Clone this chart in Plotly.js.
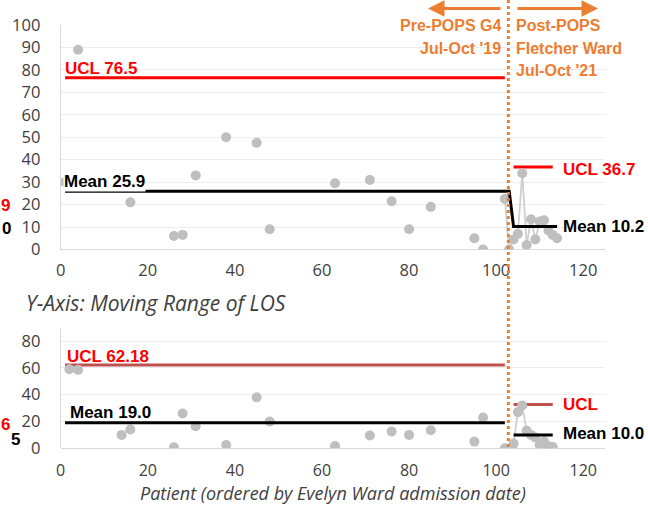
<!DOCTYPE html>
<html>
<head>
<meta charset="utf-8">
<script src="https://cdn.plot.ly/plotly-3.0.1.min.js"></script>
<style>html,body{margin:0;padding:0;background:#fff;}#chart{width:648px;height:506px;}</style>
</head>
<body>
<div id="chart"></div>
<script>
// ---- Data ----
// Top panel: LOS per patient
const preX  = [1, 4, 16, 26, 28, 31, 38, 45, 48, 63, 71, 76, 80, 85, 95, 97];
const preY  = [30, 89, 21, 6, 6.5, 33, 50, 47.5, 9, 29.5, 31, 21.5, 9, 19, 5, 0];
const postX = [102, 103, 104, 105, 106, 107, 108, 109, 110, 111, 112, 113, 114];
const postY = [22.5, 0, 4.5, 7, 34, 2, 13.5, 4.5, 12.5, 13, 8.5, 6.5, 5];
const meanTopX = [1, 103, 104, 114];
const meanTopY = [25.9, 25.9, 10.2, 10.2];
const uclPreX = [1, 102];  const uclPreY = [76.5, 76.5];
const uclPostX = [104, 113]; const uclPostY = [36.7, 36.7];

// Bottom panel: moving range
const mrPreX  = [2, 4, 14, 16, 26, 28, 31, 38, 45, 48, 63, 71, 76, 80, 85, 95, 97];
const mrPreY  = [59, 58.5, 10, 14, 0.7, 26, 16.5, 2.5, 38, 20, 1.7, 9.5, 12.5, 10, 13.5, 5, 23];
const mrPostX = [102, 104, 105, 106, 107, 108, 109, 110, 111, 112, 113];
const mrPostY = [0, 3.5, 27, 32, 13, 10, 8, 2.5, 5, 1.5, 1];
const mrMeanPreX = [1, 102];  const mrMeanPreY = [19.0, 19.0];
const mrMeanPostX = [104, 113]; const mrMeanPostY = [10.0, 10.0];
const mrUclPreX = [1, 102];  const mrUclPreY = [62.18, 62.18];
const mrUclPostX = [104, 113]; const mrUclPostY = [32.7, 32.7];

const xTicks = [0, 20, 40, 60, 80, 100, 120];
const yTopTicks = [0, 10, 20, 30, 40, 50, 60, 70, 80, 90, 100];
const yBotTicks = [0, 20, 40, 60, 80];
const phaseX = 102.8;

// ---- Styling ----
const W = 648, H = 506;
const px = v => v / W;
const py = v => 1 - v / H;
const GRAY = '#BFBFBF', LINEGRAY = '#CFCFCF', ORANGE = '#ED7D31';
const RED = '#FF0000', DULLRED = '#C0504D';
const tickFont = {family: 'Open Sans, sans-serif', size: 16.5, color: '#404040'};
const boldFont = (c, s) => ({family: 'Liberation Sans, Arial, sans-serif', size: s || 17, color: c, weight: 700});

const traces = [
  {x: uclPreX, y: uclPreY, mode: 'lines', line: {color: RED, width: 3}, xaxis: 'x', yaxis: 'y'},
  {x: uclPostX, y: uclPostY, mode: 'lines', line: {color: RED, width: 3}, xaxis: 'x', yaxis: 'y'},
  {x: preX, y: preY, mode: 'markers', marker: {color: GRAY, size: 10}, xaxis: 'x', yaxis: 'y'},
  {x: postX, y: postY, mode: 'lines+markers', marker: {color: GRAY, size: 10}, line: {color: LINEGRAY, width: 1.8}, xaxis: 'x', yaxis: 'y'},
  {x: meanTopX, y: meanTopY, mode: 'lines', line: {color: '#000', width: 3}, xaxis: 'x', yaxis: 'y'},

  {x: mrUclPreX, y: mrUclPreY, mode: 'lines', line: {color: DULLRED, width: 3}, xaxis: 'x2', yaxis: 'y2'},
  {x: mrUclPostX, y: mrUclPostY, mode: 'lines', line: {color: DULLRED, width: 3}, xaxis: 'x2', yaxis: 'y2'},
  {x: mrPreX, y: mrPreY, mode: 'markers', marker: {color: GRAY, size: 10}, xaxis: 'x2', yaxis: 'y2'},
  {x: mrPostX, y: mrPostY, mode: 'lines+markers', marker: {color: GRAY, size: 10}, line: {color: LINEGRAY, width: 1.8}, xaxis: 'x2', yaxis: 'y2'},
  {x: mrMeanPreX, y: mrMeanPreY, mode: 'lines', line: {color: '#000', width: 3}, xaxis: 'x2', yaxis: 'y2'},
  {x: mrMeanPostX, y: mrMeanPostY, mode: 'lines', line: {color: '#000', width: 3}, xaxis: 'x2', yaxis: 'y2'}
];

const xDomain = [px(60.7), px(605)];
const axisX = (anchor, standoff, font) => ({
  domain: xDomain, anchor: anchor, range: [0, 125], tickvals: xTicks, ticktext: xTicks.map(String),
  showgrid: false, zeroline: false, showline: false, ticks: '', tickfont: font || tickFont, ticklabelstandoff: standoff
});

function ann(text, x, y, font, xanchor, extra) {
  return Object.assign({text: text, xref: 'paper', yref: 'paper', x: px(x), y: py(y),
    xanchor: xanchor || 'left', yanchor: 'middle', showarrow: false, font: font}, extra || {});
}

const annotations = [
  ann('UCL 76.5', 63, 68, boldFont(RED)),
  ann('Mean 25.9', 63, 182, boldFont('#000'), 'left', {bgcolor: '#fff', borderpad: 0}),
  ann('UCL 36.7', 561, 169, boldFont(RED)),
  ann('Mean 10.2', 561, 226, boldFont('#000')),
  ann('UCL 62.18', 65, 356, boldFont(RED)),
  ann('Mean 19.0', 68, 412, boldFont('#000')),
  ann('UCL', 561, 404, boldFont(RED)),
  ann('Mean 10.0', 561, 433, boldFont('#000')),
  ann('9', 0, 205, boldFont(RED), 'left', {borderpad: 0}),
  ann('0', 1, 228, boldFont('#000'), 'left', {borderpad: 0}),
  ann('6', 0, 424, boldFont(RED), 'left', {borderpad: 0}),
  ann('5', 10, 439, boldFont('#000'), 'left', {borderpad: 0}),
  ann('Pre-POPS G4', 503, 25, boldFont(ORANGE, 16), 'right'),
  ann('Jul-Oct \'19', 503, 48, boldFont(ORANGE, 16), 'right'),
  ann('Post-POPS', 514, 25, boldFont(ORANGE, 16)),
  ann('Fletcher Ward', 514, 48, boldFont(ORANGE, 16)),
  ann('Jul-Oct \'21', 514, 71, boldFont(ORANGE, 16)),
  ann('Y-Axis: Moving Range of LOS', 24, 303, {family: 'Open Sans, sans-serif', size: 21, color: '#404040', style: 'italic'}),
  ann('Patient (ordered by Evelyn Ward admission date)', 333, 506, {family: 'Open Sans, sans-serif', size: 18, color: '#404040', style: 'italic'}, 'center', {yanchor: 'bottom', borderpad: 0}),
  // arrows
  {text: '', xref: 'paper', yref: 'paper', x: px(428), y: py(8.5), ax: 74, ay: 0, axref: 'pixel', ayref: 'pixel',
   showarrow: true, arrowhead: 2, arrowsize: 1.1, arrowwidth: 3, arrowcolor: ORANGE},
  {text: '', xref: 'paper', yref: 'paper', x: px(598), y: py(8.5), ax: -82, ay: 0, axref: 'pixel', ayref: 'pixel',
   showarrow: true, arrowhead: 2, arrowsize: 1.1, arrowwidth: 3, arrowcolor: ORANGE}
];

const layout = {
  width: W, height: H,
  margin: {l: 0, r: 0, t: 0, b: 0},
  paper_bgcolor: '#fff', plot_bgcolor: 'rgba(0,0,0,0)',
  showlegend: false,
  xaxis: axisX('y', 9),
  yaxis: {domain: [py(249.5), py(25)], range: [0, 100], tickvals: yTopTicks, anchor: 'x',
    gridcolor: '#EDEDED', gridwidth: 1, zeroline: true, zerolinecolor: '#D9D9D9', zerolinewidth: 1,
    showline: true, linecolor: '#D9D9D9', linewidth: 1, ticks: '', tickfont: tickFont, ticklabelstandoff: 16},
  xaxis2: axisX('y2', 11, {family: 'Open Sans, sans-serif', size: 16, color: '#404040'}),
  yaxis2: {domain: [py(448.3), py(327.6)], range: [0, 90], tickvals: yBotTicks, anchor: 'x2',
    gridcolor: '#EDEDED', gridwidth: 1, zeroline: true, zerolinecolor: '#D9D9D9', zerolinewidth: 1,
    showline: true, linecolor: '#D9D9D9', linewidth: 1, ticks: '', tickfont: tickFont, ticklabelstandoff: 16},
  annotations: annotations,
  shapes: [
    {type: 'line', xref: 'x', yref: 'paper', x0: phaseX, x1: phaseX, y0: py(447), y1: 1,
     line: {color: ORANGE, width: 3, dash: 'dot'}, layer: 'above'}
  ]
};

Plotly.newPlot('chart', traces, layout, {staticPlot: true, displayModeBar: false});
</script>
</body>
</html>
